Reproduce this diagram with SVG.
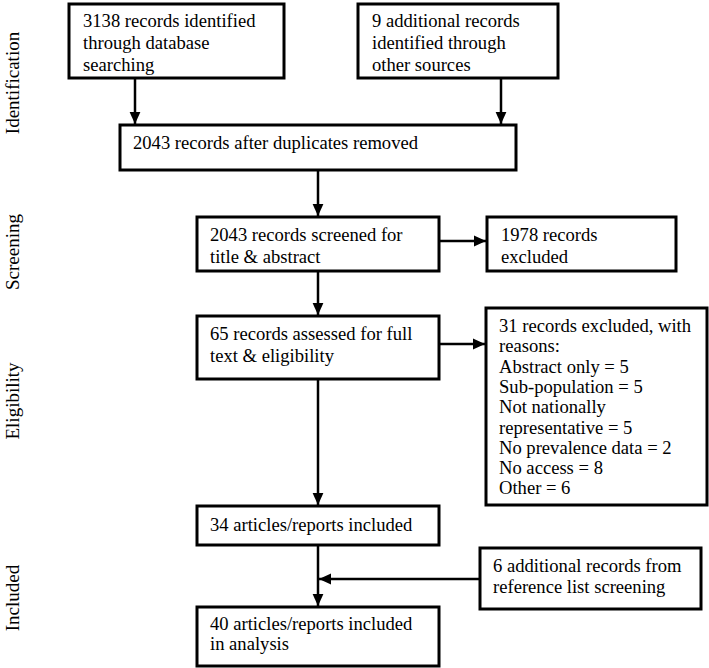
<svg xmlns="http://www.w3.org/2000/svg" width="709" height="668" viewBox="0 0 709 668">
<style>
.box{fill:#fff;stroke:#000;stroke-width:3}
.t{font-family:'Liberation Serif','DejaVu Serif',serif;font-size:18.6px;fill:#000}
.side{font-family:'Liberation Serif','DejaVu Serif',serif;font-size:19px;fill:#000;text-anchor:middle}
.c{stroke:#000;stroke-width:2.5;fill:none;marker-end:url(#ah)}
</style>
<defs>
<marker id="ah" markerUnits="userSpaceOnUse" markerWidth="12" markerHeight="12" viewBox="0 0 10 10" refX="10" refY="5" orient="auto">
<path d="M0,0.5 L10,5 L0,9.5 Z" fill="#000"/>
</marker>
</defs>
<g id="labels">
<text class="side" transform="translate(18.5,83) rotate(-90)">Identification</text>
<text class="side" transform="translate(18.5,252) rotate(-90)">Screening</text>
<text class="side" transform="translate(18.5,401) rotate(-90)">Eligibility</text>
<text class="side" transform="translate(18.5,598) rotate(-90)">Included</text>
</g>
<g id="connectors">
<line class="c" x1="135" y1="78" x2="135" y2="124"/>
<line class="c" x1="501" y1="78" x2="501" y2="124"/>
<line class="c" x1="318" y1="170" x2="318" y2="216"/>
<line class="c" x1="318" y1="271" x2="318" y2="315"/>
<line class="c" x1="439" y1="241" x2="486" y2="241"/>
<line class="c" x1="439" y1="344" x2="485" y2="344"/>
<line class="c" x1="318" y1="379" x2="318" y2="505"/>
<line class="c" x1="318" y1="545" x2="318" y2="606"/>
<line class="c" x1="480" y1="579" x2="319" y2="579"/>
</g>
<g id="n1"><rect class="box" x="69" y="4" width="215" height="74"/>
<text class="t" x="83" y="27">3138 records identified</text>
<text class="t" x="83" y="49">through database</text>
<text class="t" x="83" y="71">searching</text></g>
<g id="n2"><rect class="box" x="358" y="4" width="200" height="74"/>
<text class="t" x="372" y="27">9 additional records</text>
<text class="t" x="372" y="49">identified through</text>
<text class="t" x="372" y="71">other sources</text></g>
<g id="n3"><rect class="box" x="120" y="125" width="396" height="45"/>
<text class="t" x="133" y="149">2043 records after duplicates removed</text></g>
<g id="n4"><rect class="box" x="197" y="217" width="242" height="54"/>
<text class="t" x="210" y="241">2043 records screened for</text>
<text class="t" x="210" y="263">title &amp; abstract</text></g>
<g id="n5"><rect class="box" x="487" y="217" width="189" height="54"/>
<text class="t" x="501" y="241">1978 records</text>
<text class="t" x="501" y="263">excluded</text></g>
<g id="n6"><rect class="box" x="197" y="316" width="242" height="63"/>
<text class="t" x="210" y="340">65 records assessed for full</text>
<text class="t" x="210" y="362">text &amp; eligibility</text></g>
<g id="n7"><rect class="box" x="486" y="308" width="221" height="197"/>
<text class="t" x="499" y="332">31 records excluded, with</text>
<text class="t" x="499" y="352">reasons:</text>
<text class="t" x="499" y="372.5">Abstract only = 5</text>
<text class="t" x="499" y="393">Sub-population = 5</text>
<text class="t" x="499" y="413">Not nationally</text>
<text class="t" x="499" y="433.5">representative = 5</text>
<text class="t" x="499" y="453.5">No prevalence data = 2</text>
<text class="t" x="499" y="473.5">No access = 8</text>
<text class="t" x="499" y="493.5">Other = 6</text></g>
<g id="n8"><rect class="box" x="197" y="506" width="242" height="39"/>
<text class="t" x="210" y="531">34 articles/reports included</text></g>
<g id="n9"><rect class="box" x="480" y="548" width="221" height="61"/>
<text class="t" x="493" y="572">6 additional records from</text>
<text class="t" x="493" y="593">reference list screening</text></g>
<g id="n10"><rect class="box" x="197" y="607" width="242" height="59"/>
<text class="t" x="210" y="630">40 articles/reports included</text>
<text class="t" x="210" y="650">in analysis</text></g>
</svg>
